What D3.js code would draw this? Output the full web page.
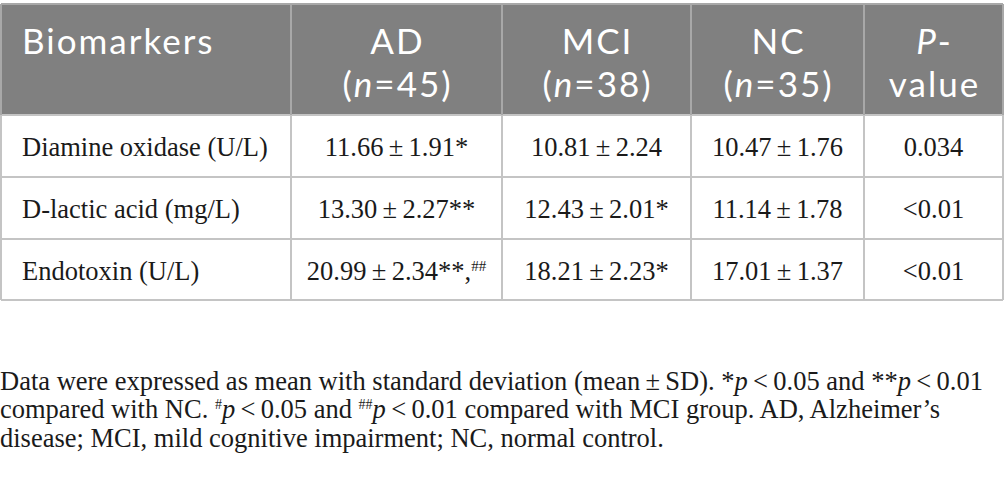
<!DOCTYPE html>
<html><head><meta charset="utf-8">
<script src="https://cdn.jsdelivr.net/npm/d3@7"></script>
<style>body{margin:0;background:#fff;} svg{display:block;}</style>
</head><body>
<svg id="c" width="1005" height="478"></svg>
<script>
const groups = ["AD", "MCI", "NC"];
const groupN = [45, 38, 35];
const biomarkers = ["Diamine oxidase (U/L)", "D-lactic acid (mg/L)", "Endotoxin (U/L)"];
const meanAD = ["11.66", "13.30", "20.99"];
const sdAD = ["1.91", "2.27", "2.34"];
const markAD = [["*", ""], ["**", ""], ["**,", "##"]];
const meanMCI = ["10.81", "12.43", "18.21"];
const sdMCI = ["2.24", "2.01", "2.23"];
const markMCI = [["", ""], ["*", ""], ["*", ""]];
const meanNC = ["10.47", "11.14", "17.01"];
const sdNC = ["1.76", "1.78", "1.37"];
const pValues = ["0.034", "<0.01", "<0.01"];

const svg = d3.select("#c");
const colEdges = [1, 291, 502, 691, 864, 1003];
const rowEdges = [4, 115, 177, 239, 300];
const x = d3.scaleOrdinal().domain(d3.range(6)).range(colEdges);
const y = d3.scaleOrdinal().domain(d3.range(5)).range(rowEdges);
const sans = "Lato, 'Noto Sans', sans-serif";
const serif = "'Liberation Serif', 'DejaVu Serif', serif";

svg.append("rect").attr("x", x(0)).attr("y", y(0)).attr("width", x(5) - x(0)).attr("height", y(1) - y(0)).attr("fill", "#808080");

const g = svg.append("g");
d3.range(1, 5).forEach(r => {
  g.append("line").attr("x1", x(0)).attr("x2", x(5)).attr("y1", y(r)).attr("y2", y(r)).attr("stroke", "#c4c4c4").attr("stroke-width", 2);
});
d3.range(0, 6).forEach(c => {
  g.append("line").attr("x1", x(c)).attr("x2", x(c)).attr("y1", y(1)).attr("y2", y(4)).attr("stroke", "#c4c4c4").attr("stroke-width", 2);
  g.append("line").attr("x1", x(c)).attr("x2", x(c)).attr("y1", y(0)).attr("y2", y(1)).attr("stroke", "#a8a8a8").attr("stroke-width", 2);
});
g.append("line").attr("x1", x(0)).attr("x2", x(5)).attr("y1", y(0)).attr("y2", y(0)).attr("stroke", "#a8a8a8").attr("stroke-width", 2);

const hdr = svg.append("g").attr("font-family", sans).attr("font-size", 35).attr("letter-spacing", 2).attr("fill", "#fff");
hdr.append("text").attr("x", x(0) + 21).attr("y", 54).text("Biomarkers");
groups.forEach((gname, i) => {
  const cx = (x(i + 1) + x(i + 2)) / 2 + 1;
  hdr.append("text").attr("x", cx).attr("y", 54).attr("text-anchor", "middle").text(gname);
  const t = hdr.append("text").attr("x", cx).attr("y", 97).attr("text-anchor", "middle");
  t.append("tspan").text("(");
  t.append("tspan").attr("font-style", "italic").text("n");
  t.append("tspan").text("=" + groupN[i] + ")");
});
const pcx = (x(4) + x(5)) / 2;
const ph = hdr.append("text").attr("x", pcx + 1).attr("y", 54).attr("text-anchor", "middle");
ph.append("tspan").attr("font-style", "italic").text("P");
ph.append("tspan").text("-");
hdr.append("text").attr("x", pcx + 1).attr("y", 97).attr("text-anchor", "middle").text("value");

const body = svg.append("g").attr("font-family", serif).attr("font-size", 26.5).attr("fill", "#1a1a1a");
const cols = [[meanAD, sdAD, markAD], [meanMCI, sdMCI, markMCI], [meanNC, sdNC, null]];
biomarkers.forEach((b, r) => {
  const by = (y(r + 1) + y(r + 2)) / 2 + 10;
  body.append("text").attr("x", x(0) + 21).attr("y", by).text(b);
  cols.forEach((col, c) => {
    const cx = (x(c + 1) + x(c + 2)) / 2;
    const t = body.append("text").attr("x", cx).attr("y", by).attr("text-anchor", "middle");
    t.append("tspan").text(col[0][r] + "\u2009\u00b1\u2009" + col[1][r]);
    if (col[2]) {
      const m = col[2][r];
      if (m[0]) t.append("tspan").text(m[0]);
      if (m[1]) t.append("tspan").attr("font-size", 15).attr("dy", -9).text(m[1]);
    }
  });
  body.append("text").attr("x", pcx).attr("y", by).attr("text-anchor", "middle").text(pValues[r]);
});

const fn = svg.append("g").attr("font-family", serif).attr("font-size", 26.5).attr("fill", "#1a1a1a");
const lines = [
  [["Data were expressed as mean with standard deviation (mean\u2009\u00b1\u2009SD). *", ""], ["p", "i"], ["\u2009<\u20090.05 and **", ""], ["p", "i"], ["\u2009<\u20090.01", ""]],
  [["compared with NC. ", ""], ["#", "s"], ["p", "i"], ["\u2009<\u20090.05 and ", ""], ["##", "s"], ["p", "i"], ["\u2009<\u20090.01 compared with MCI group. AD, Alzheimer\u2019s", ""]],
  [["disease; MCI, mild cognitive impairment; NC, normal control.", ""]]
];
const lineY = [390, 418, 447];
lines.forEach((parts, i) => {
  const t = fn.append("text").attr("x", 0).attr("y", lineY[i]);
  parts.forEach(([s, k]) => {
    const sp = t.append("tspan").text(s);
    if (k === "i") sp.attr("font-style", "italic");
    if (k === "s") sp.attr("font-size", 14).attr("baseline-shift", "9");
  });
});
</script>
</body></html>
